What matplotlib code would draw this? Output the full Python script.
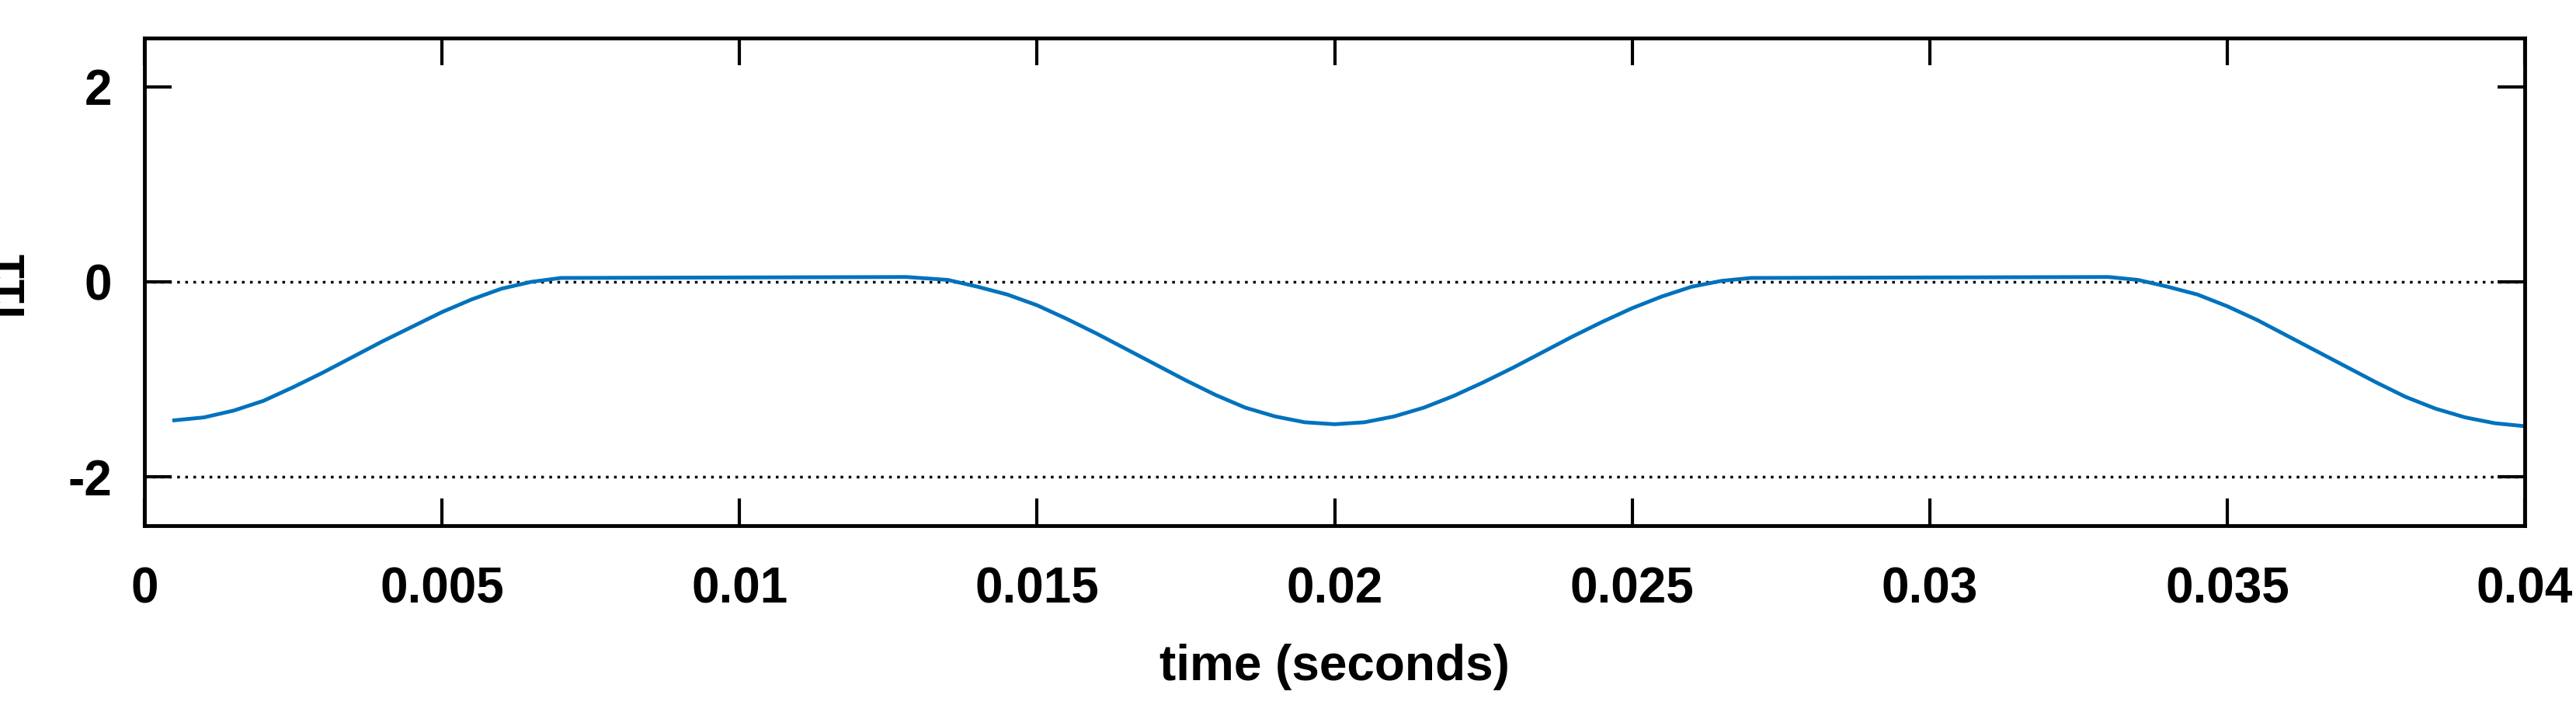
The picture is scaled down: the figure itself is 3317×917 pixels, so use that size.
import matplotlib
matplotlib.use("Agg")
import matplotlib.pyplot as plt

# values
t = [0.0005, 0.001, 0.0015, 0.002, 0.0025, 0.003, 0.0035, 0.004, 0.0045, 0.005,
     0.0055, 0.006, 0.0065, 0.007, 0.0128, 0.0135, 0.014, 0.0145, 0.015, 0.0155,
     0.016, 0.0165, 0.017, 0.0175, 0.018, 0.0185, 0.019, 0.0195, 0.02, 0.0205,
     0.021, 0.0215, 0.022, 0.0225, 0.023, 0.0235, 0.024, 0.0245, 0.025, 0.0255,
     0.026, 0.0265, 0.027, 0.033, 0.0335, 0.034, 0.0345, 0.035, 0.0355, 0.036,
     0.0365, 0.037, 0.0375, 0.038, 0.0385, 0.039, 0.0395, 0.04]
i1 = [-1.42, -1.39, -1.32, -1.22, -1.08, -0.93, -0.77, -0.61, -0.46, -0.31,
      -0.18, -0.07, 0.00, 0.04, 0.05, 0.02, -0.05, -0.13, -0.24, -0.38,
      -0.53, -0.69, -0.85, -1.01, -1.16, -1.29, -1.38, -1.44, -1.46, -1.44,
      -1.38, -1.29, -1.17, -1.03, -0.88, -0.72, -0.56, -0.41, -0.27, -0.15,
      -0.05, 0.01, 0.04, 0.05, 0.02, -0.05, -0.13, -0.25, -0.39, -0.55,
      -0.71, -0.87, -1.03, -1.18, -1.30, -1.39, -1.45, -1.48]
grid_levels = [0, -2]
xticks = [0, 0.005, 0.01, 0.015, 0.02, 0.025, 0.03, 0.035, 0.04]
xtick_labels = ["0", "0.005", "0.01", "0.015", "0.02", "0.025", "0.03", "0.035", "0.04"]
yticks = [-2, 0, 2]
ytick_labels = ["-2", "0", "2"]

plt.rcParams['font.family'] = ['Liberation Sans', 'DejaVu Sans']
plt.rcParams['font.weight'] = 'bold'

fig = plt.figure(figsize=(33.17, 9.17), dpi=100)
ax = fig.add_axes([186 / 3317, 1 - 677 / 917, (3251 - 186) / 3317, (677 - 49) / 917])

for lv in grid_levels:
    ax.axhline(lv, color='black', lw=2.5, ls=(0, (1, 2)), zorder=1)
ax.plot(t, i1, color='#0072BD', lw=3.5, zorder=2)

ax.set_xlim(0, 0.04)
ax.set_ylim(-2.5, 2.5)
ax.set_xticks(xticks)
ax.set_xticklabels(xtick_labels)
ax.set_yticks(yticks)
ax.set_yticklabels(ytick_labels)
ax.tick_params(direction='in', length=25, width=3, labelsize=46, pad=38,
               top=True, right=True)
ax.tick_params(axis='y', pad=30)
for sp in ax.spines.values():
    sp.set_linewidth(3.5)
ax.set_xlabel("time (seconds)", fontsize=46, fontweight='bold', labelpad=28)
ax.set_ylabel("i11", fontsize=46, fontweight='bold', labelpad=34)

fig.savefig("out.png", dpi=100)
